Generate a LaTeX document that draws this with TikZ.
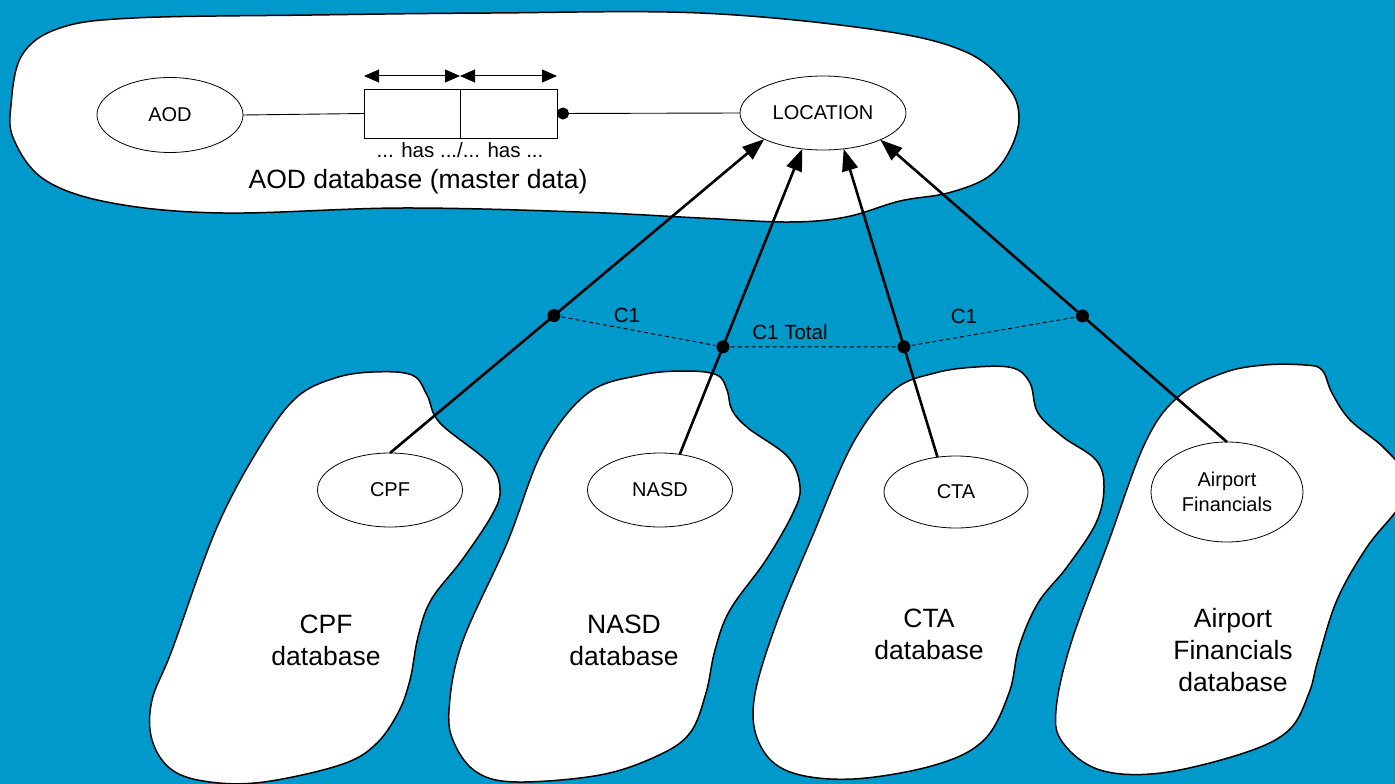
\documentclass[tikz,border=0pt]{standalone}
\usepackage{fontspec}
\setmainfont{Liberation Sans}
\usetikzlibrary{arrows.meta,shapes.geometric}
\definecolor{bg}{RGB}{0,153,204}
\begin{document}
\begin{tikzpicture}[x=1pt,y=-1pt,
  blob/.style={draw=black,fill=white,line width=1.5pt},
  ent/.style={draw=black,fill=white,ellipse,line width=0.8pt,inner sep=0pt,outer sep=0pt,font=\fontsize{20}{24.5}\selectfont,align=center},
  boxst/.style={draw=black,fill=white,rectangle,line width=0.9pt,inner sep=0pt,outer sep=0pt,minimum height=49pt},
  lbl/.style={font=\fontsize{20.5}{24.5}\selectfont,inner sep=0pt},
  big/.style={font=\fontsize{26.5}{32}\selectfont,inner sep=0pt,align=center},
  dim/.style={line width=1pt,{Triangle[length=15pt,width=13pt]}-{Triangle[length=15pt,width=13pt]}},
  thinln/.style={line width=0.9pt},
  link/.style={line width=2.6pt,-{Triangle[length=22pt,width=16pt]}},
  dot/.style={circle,fill=black,inner sep=0pt,minimum size=13pt},
  dashln/.style={line width=1pt,dash pattern=on 4pt off 3pt}
]
\fill[bg] (0,0) rectangle (1395,784);
\useasboundingbox (0,0) rectangle (1395,784);

% top blob
\draw[blob] plot[smooth cycle,tension=0.6] coordinates {
 (11,105) (22,55) (60,28) (134,18) (312,15) (491,13) (700,13) (877,30) (966,52)
 (1008,87) (1019,117) (1010,150) (988,177) (948,193) (900,201) (846,217) (789,222)
 (700,218) (580,212) (402,208) (223,213) (112,203) (45,180) (14,140)};

% lower blobs
\draw[blob] plot[smooth cycle,tension=0.6] coordinates {
 (373,372) (412,375) (427,395) (440,423) (489,463) (500,490) (492,515) (462,560)
 (431,600) (418,637) (410,680) (398,713) (375,745) (340,765) (264,782) (210,782)
 (172,770) (152,740) (152,700) (172,650) (217,527) (262,443) (297,397) (335,378)};
\draw[blob] plot[smooth cycle,tension=0.6] coordinates {
 (686,371) (717,375) (727,390) (732,410) (748,428) (788,457) (800,487) (793,513)
 (766,560) (730,610) (715,650) (706,693) (690,733) (657,756) (600,775) (518,782)
 (478,773) (455,745) (449,710) (462,643) (507,543) (543,450) (588,393) (641,375)};
\draw[blob] plot[smooth cycle,tension=0.6] coordinates {
 (1013,368) (1030,383) (1038,413) (1063,437) (1096,460) (1104,487) (1096,523)
 (1067,567) (1038,603) (1019,647) (1009,693) (984,740) (935,765) (853,779)
 (790,772) (760,745) (754,700) (775,627) (812,537) (853,443) (894,390) (935,373) (976,367)};
\draw[blob] plot[smooth cycle,tension=0.6] coordinates {
 (1305,365) (1322,370) (1332,393) (1350,420) (1383,447) (1405,475) (1400,505)
 (1367,547) (1337,600) (1318,660) (1309,693) (1289,730) (1244,753) (1161,773)
 (1100,770) (1063,743) (1056,710) (1071,643) (1108,543) (1145,443) (1178,397)
 (1223,373) (1264,365)};

% entities
\node[ent,minimum width=146pt,minimum height=75pt] (AOD) at (170,115) {AOD};
\node[ent,minimum width=166pt,minimum height=74pt] (LOC) at (823,113) {LOCATION};
\node[ent,minimum width=145pt,minimum height=74pt] (CPF) at (390,490) {CPF};
\node[ent,minimum width=145pt,minimum height=74pt] (NASD) at (660,490) {NASD};
\node[ent,minimum width=144pt,minimum height=72pt] (CTA) at (956,492) {CTA};
\node[ent,minimum width=152pt,minimum height=100pt] (AF) at (1227,492) {Airport\\Financials};

% relationship box
\node[boxst,minimum width=96pt] (boxL) at (412,113.5) {};
\node[boxst,minimum width=97pt] (boxR) at (508.5,113.5) {};
\draw[dim] ([yshift=13pt]boxL.north west) -- ([yshift=13pt]boxL.north east);
\draw[dim] ([yshift=13pt]boxR.north west) -- ([yshift=13pt]boxR.north east);
\draw[thinln] (AOD.east) -- (boxL.west);
\draw[thinln,{Circle[length=12pt]}-] (boxR.east) -- (LOC.west);

\node[lbl,anchor=base] (hastxt) at (460,157) {... has .../... has ...};
\node[big,anchor=base] (aodtxt) at (418,188) {AOD database (master data)};

% links
\draw[link] (CPF.north) -- node[dot,pos=0.438] (d1) {} (LOC.204);
\draw[link] (NASD.61) -- node[dot,pos=0.352] (d2) {} (LOC.240);
\draw[link] (CTA.118) -- node[dot,pos=0.358] (d3) {} (LOC.300);
\draw[link] (AF.north) -- node[dot,pos=0.417] (d4) {} (LOC.335);
\draw[dashln] (d1) -- (d2) -- (d3) -- (d4);

\node[lbl,anchor=base] (c1a) at (627,322) {C1};
\node[lbl,anchor=base] (c1t) at (790,339) {C1 Total};
\node[lbl,anchor=base] (c1b) at (964,323) {C1};

% database labels
\node[big] (cpfdb) at (326,640) {CPF\\database};
\node[big] (nasddb) at (624,640) {NASD\\database};
\node[big] (ctadb) at (929,634) {CTA\\database};
\node[big] (afdb) at (1233,650) {Airport\\Financials\\database};
\end{tikzpicture}
\end{document}
